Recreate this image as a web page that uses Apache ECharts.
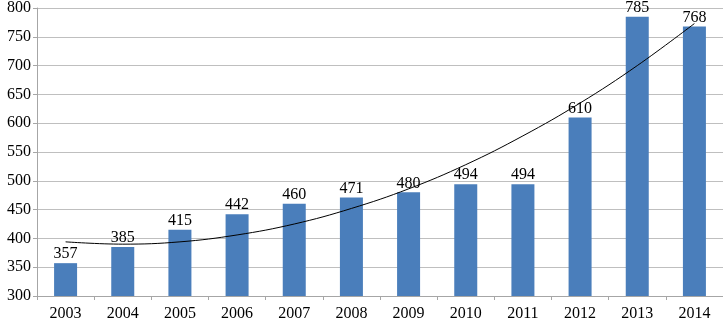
<!DOCTYPE html>
<html><head><meta charset="utf-8">
<script src="https://cdn.jsdelivr.net/npm/echarts@6/dist/echarts.min.js"></script>
<style>html,body{margin:0;padding:0;background:#fff}#c{width:723px;height:324px}</style>
</head><body><div id="c"></div>
<script>
const years = ['2003','2004','2005','2006','2007','2008','2009','2010','2011','2012','2013','2014'];
const values = [357,385,415,442,460,471,480,494,494,610,785,768];
const trend = [394,390,394,406,425,452,486,528,578,635,700,773];
const yTicks = {min:300, max:800, interval:50};

const chart = echarts.init(document.getElementById('c'), null, {renderer:'canvas'});
const font = 'Liberation Serif';
chart.setOption({
  animation:false,
  backgroundColor:'#fff',
  grid:{left:37, right:0, top:6, bottom:28},
  xAxis:{type:'category', data:years,
    axisLine:{lineStyle:{color:'#a6a6a6', width:1}},
    axisTick:{show:true, length:4, alignWithLabel:false, lineStyle:{color:'#a6a6a6'}},
    axisLabel:{color:'#000', fontFamily:font, fontSize:16, margin:10}
  },
  yAxis:{type:'value', min:yTicks.min, max:yTicks.max, interval:yTicks.interval,
    axisLine:{show:true, lineStyle:{color:'#a6a6a6'}},
    axisTick:{show:true, length:4, lineStyle:{color:'#a6a6a6'}},
    splitLine:{lineStyle:{color:'#bfbfbf', width:1}},
    axisLabel:{color:'#000', fontFamily:font, fontSize:16, margin:6}
  },
  series:[
    {type:'bar', data:values, barWidth:23,
     itemStyle:{color:'#4a7ebb'},
     label:{show:true, position:'top', distance:2, lineHeight:14, color:'#000', fontFamily:font, fontSize:16}},
    {type:'line', data:trend, smooth:0.4, symbol:'none', z:5,
     lineStyle:{color:'#000', width:1}}
  ]
});
</script></body></html>
